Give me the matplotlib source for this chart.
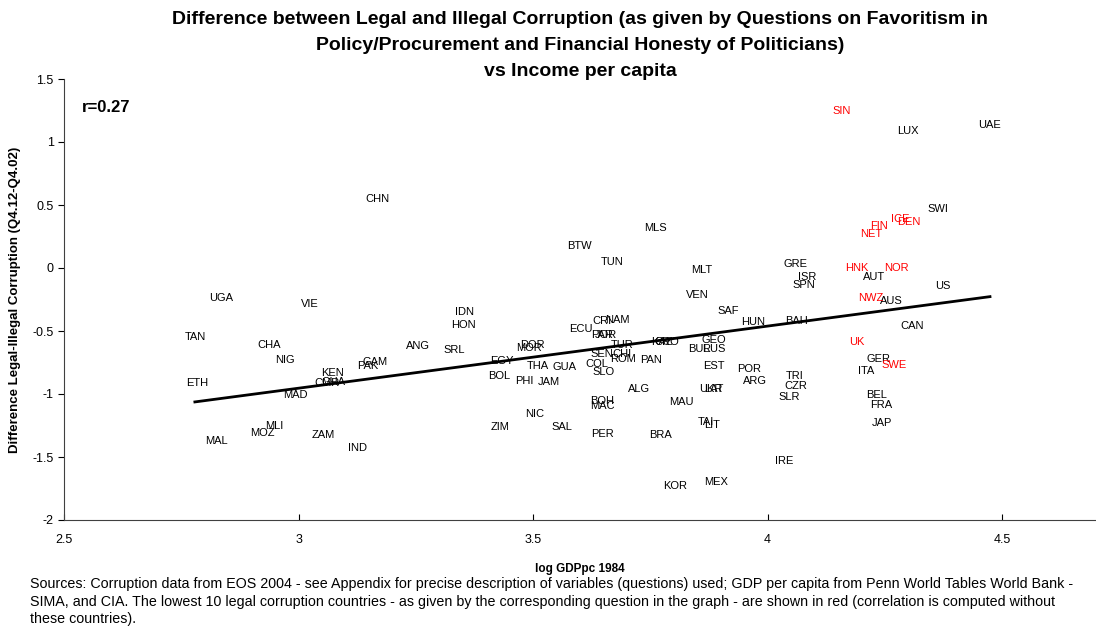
import numpy as np
import matplotlib
matplotlib.use("Agg")
import matplotlib.pyplot as plt

plt.rcParams["font.family"] = ["Liberation Sans", "DejaVu Sans"]

# countries shown in black (used for the fit / correlation)
black_names = ["LUX", "UAE", "CHN", "SWI", "MLS", "BTW", "TUN", "GRE", "MLT", "ISR",
               "AUT", "SPN", "US", "UGA", "VIE", "VEN", "AUS", "SAF", "IDN", "HON",
               "BAH", "HUN", "CRI", "NAM", "ECU", "PAR", "JOR", "CAN", "TAN", "CHA",
               "ANG", "SRL", "DOR", "MOR", "GEO", "BUL", "RUS", "KAZ", "CRO", "NIG",
               "GAM", "PAK", "EGY", "TUR", "SEN", "CHI", "ROM", "PAN", "GER", "ITA",
               "EST", "THA", "GUA", "COL", "SLO", "KEN", "CMR", "GHA", "ETH", "BOL",
               "POR", "PHI", "JAM", "ARG", "TRI", "CZR", "SLR", "ALG", "UKR", "LAT",
               "MAD", "BEL", "FRA", "BOH", "MAC", "MAU", "NIC", "TAI", "LIT", "JAP",
               "MLI", "SAL", "ZIM", "MOZ", "ZAM", "PER", "BRA", "MAL", "IND", "IRE",
               "MEX", "KOR"]
black_x = [4.300, 4.474, 3.168, 4.364, 3.760, 3.598, 3.668, 4.060, 3.860, 4.085,
           4.226, 4.077, 4.374, 2.836, 3.023, 3.851, 4.264, 3.915, 3.353, 3.351,
           4.062, 3.970, 3.647, 3.679, 3.602, 3.647, 3.655, 4.309, 2.779, 2.938,
           3.255, 3.332, 3.498, 3.491, 3.885, 3.853, 3.885, 3.774, 3.785, 2.972,
           3.164, 3.147, 3.434, 3.690, 3.647, 3.690, 3.692, 3.751, 4.236, 4.211,
           3.885, 3.509, 3.566, 3.636, 3.651, 3.072, 3.060, 3.075, 2.783, 3.428,
           3.960, 3.481, 3.534, 3.974, 4.057, 4.060, 4.045, 3.726, 3.879, 3.885,
           2.994, 4.232, 4.243, 3.647, 3.647, 3.817, 3.504, 3.868, 3.881, 4.243,
           2.949, 3.562, 3.430, 2.923, 3.053, 3.647, 3.772, 2.826, 3.126, 4.036,
           3.891, 3.802]
black_y = [1.087, 1.135, 0.548, 0.468, 0.317, 0.175, 0.048, 0.032, -0.016, -0.071,
           -0.071, -0.135, -0.143, -0.238, -0.286, -0.214, -0.262, -0.341, -0.349, -0.452,
           -0.421, -0.429, -0.421, -0.413, -0.484, -0.532, -0.532, -0.460, -0.548, -0.611,
           -0.619, -0.651, -0.611, -0.635, -0.571, -0.643, -0.643, -0.587, -0.587, -0.730,
           -0.746, -0.778, -0.738, -0.611, -0.683, -0.683, -0.722, -0.730, -0.722, -0.817,
           -0.778, -0.778, -0.786, -0.762, -0.825, -0.833, -0.913, -0.905, -0.913, -0.857,
           -0.802, -0.897, -0.905, -0.897, -0.857, -0.937, -1.024, -0.960, -0.960, -0.960,
           -1.008, -1.008, -1.087, -1.056, -1.095, -1.063, -1.159, -1.222, -1.246, -1.230,
           -1.254, -1.262, -1.262, -1.310, -1.325, -1.317, -1.325, -1.373, -1.429, -1.532,
           -1.698, -1.730]

# lowest 10 legal corruption countries (red)
red_names = ["SIN", "ICE", "DEN", "FIN", "NET", "HNK", "NOR", "NWZ", "UK", "SWE"]
red_x = [4.157, 4.283, 4.300, 4.238, 4.221, 4.191, 4.274, 4.219, 4.191, 4.270]
red_y = [1.246, 0.389, 0.365, 0.333, 0.270, 0.000, 0.000, -0.238, -0.587, -0.770]

# linear trend as drawn in the original
trend_slope = 0.493
trend_intercept = -2.433

r_text = "r=0.27"

fig = plt.figure(figsize=(10.96, 6.35), dpi=100)
ax = fig.add_axes([64 / 1096, 1 - 520 / 635, 1 - 64 / 1096, 441 / 635])

for n, x, y in zip(black_names, black_x, black_y):
    ax.text(x, y, n, fontsize=8, ha="center", va="center", color="black")
for n, x, y in zip(red_names, red_x, red_y):
    ax.text(x, y, n, fontsize=8, ha="center", va="center", color="red")

bx = np.array(black_x)
xs = np.array([bx.min(), bx.max()])
ax.plot(xs, trend_slope * xs + trend_intercept, color="black", lw=2)

ax.set_xlim(2.5, 4.7)
ax.set_ylim(-2, 1.5)
ax.set_xticks([2.5, 3, 3.5, 4, 4.5])
ax.set_xticklabels(["2.5", "3", "3.5", "4", "4.5"])
ax.set_yticks([-2, -1.5, -1, -0.5, 0, 0.5, 1, 1.5])
ax.set_yticklabels(["-2", "-1.5", "-1", "-0.5", "0", "0.5", "1", "1.5"])
ax.tick_params(axis="x", direction="in", length=4, labelsize=9, pad=10)
ax.tick_params(axis="y", direction="out", length=4, labelsize=9)
ax.spines["top"].set_visible(False)
ax.spines["right"].set_visible(False)
for s in ("left", "bottom"):
    ax.spines[s].set_color("#404040")

ax.text(0.017, 0.925, r_text, transform=ax.transAxes, fontsize=12, fontweight="bold")

ax.set_xlabel("log GDPpc 1984", fontsize=8.5, fontweight="bold", labelpad=12)
ax.set_ylabel("Difference Legal-Illegal Corruption (Q4.12-Q4.02)", fontsize=9.5,
              fontweight="bold", labelpad=8)

fig.text(580 / 1096, 1 - 19 / 635, "Difference between Legal and Illegal Corruption (as given by Questions on Favoritism in",
         ha="center", va="center", fontsize=14, fontweight="bold")
fig.text(580 / 1096, 1 - 45 / 635, "Policy/Procurement and Financial Honesty of Politicians)",
         ha="center", va="center", fontsize=14, fontweight="bold")
fig.text(580 / 1096, 1 - 71 / 635, "vs Income per capita",
         ha="center", va="center", fontsize=14, fontweight="bold")

footer = ("Sources: Corruption data from EOS 2004 - see Appendix for precise description of variables (questions) used; "
          "GDP per capita from Penn World Tables World Bank -\n"
          "SIMA, and CIA. The lowest 10 legal corruption countries - as given by the corresponding question in the graph - "
          "are shown in red (correlation is computed without\n"
          "these countries).")
fig.text(30 / 1096, 1 - 577 / 635, footer, ha="left", va="top", fontsize=10.3, linespacing=1.32)

fig.savefig("out.png", dpi=100)
